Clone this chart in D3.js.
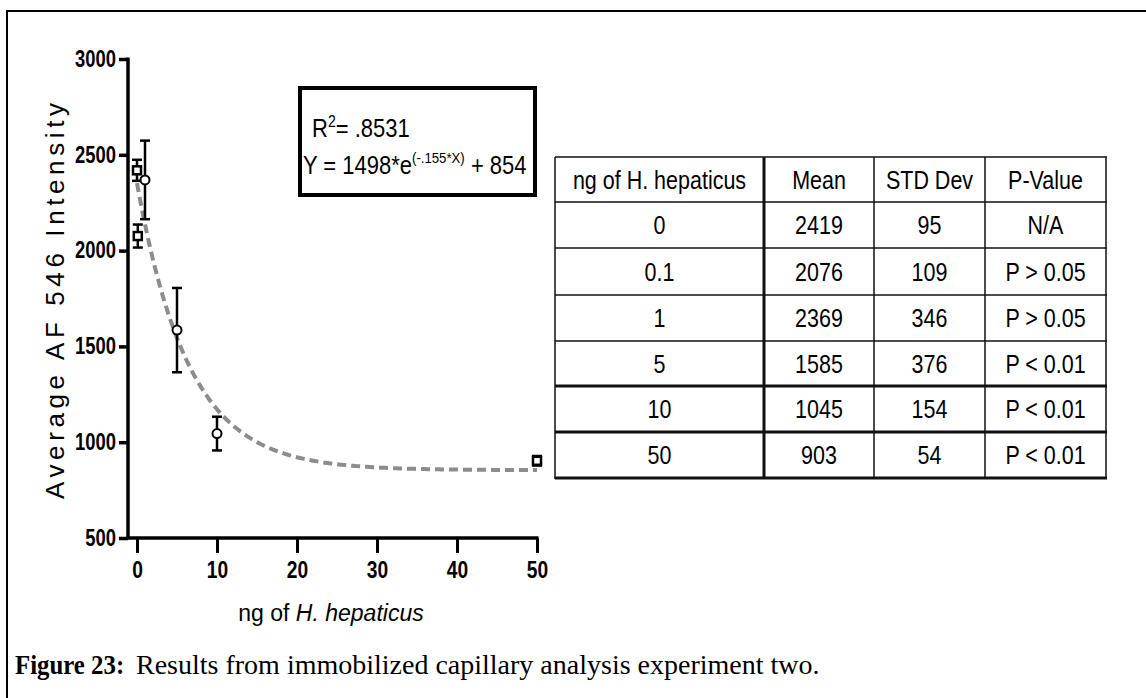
<!DOCTYPE html>
<html>
<head>
<meta charset="utf-8">
<script src="https://cdn.jsdelivr.net/npm/d3@7"></script>
<style>
  html, body { margin: 0; padding: 0; background: #fff; }
  svg { display: block; }
  text { font-family: "Liberation Sans", Arial, sans-serif; fill: #000; }
</style>
</head>
<body>
<svg id="chart" width="1146" height="698"></svg>
<script>
// ---------------- data ----------------
const doses = [0, 0.1, 1, 5, 10, 50];
const means = [2419, 2076, 2369, 1585, 1045, 903];
const stdDevs = [95, 109, 346, 376, 154, 54];
const pValues = ["N/A", "P > 0.05", "P > 0.05", "P < 0.01", "P < 0.01", "P < 0.01"];
// half-length of the error bars as drawn on the plot
const plottedErr = [55, 60, 205, 220, 88, 25];
const markerShapes = ["square", "square", "circle", "circle", "circle", "square"];
const xTicks = [0, 10, 20, 30, 40, 50];
const yTicks = [500, 1000, 1500, 2000, 2500, 3000];
const tableHeader = ["ng of H. hepaticus", "Mean", "STD Dev", "P-Value"];
const doseLabels = ["0", "0.1", "1", "5", "10", "50"];
// fitted model stated on the chart: Y = A*e^(-k*X) + C
const fitA = 1498, fitK = 0.155, fitC = 854;
const rSquaredLabel = ".8531";

// ---------------- layout ----------------
const svg = d3.select("#chart");
const x = d3.scaleLinear().domain([0, 50]).range([137, 537]);
const y = d3.scaleLinear().domain([500, 3000]).range([538, 59]);
const axisX0 = 128, axisY0 = 538;
const SX = 0.8; // horizontal squeeze to mimic the narrow face

// outer frame (extends beyond the right/bottom edges)
svg.append("rect").attr("x", 7).attr("y", 11).attr("width", 1300).attr("height", 900)
  .attr("fill", "none").attr("stroke", "#000").attr("stroke-width", 2);

// ---------------- axes ----------------
const gx = svg.append("g").attr("transform", `translate(0,${axisY0})`)
  .call(d3.axisBottom(x).tickValues(xTicks).tickFormat(d3.format("d"))
    .tickSize(15).tickSizeOuter(0).tickPadding(8));
gx.select(".domain").remove();
gx.selectAll(".tick line").attr("stroke", "#000").attr("stroke-width", 3);
gx.selectAll(".tick text").attr("font-size", 24).attr("font-weight", "bold")
  .style("font-family", "Liberation Sans, Arial, sans-serif")
  .attr("transform", `scale(${SX},1)`);
svg.append("line").attr("x1", axisX0 - 1.5).attr("x2", x(50) + 1.5)
  .attr("y1", axisY0).attr("y2", axisY0).attr("stroke", "#000").attr("stroke-width", 3.5);

const gy = svg.append("g").attr("transform", `translate(${axisX0},0)`)
  .call(d3.axisLeft(y).tickValues(yTicks).tickFormat(d3.format("d"))
    .tickSize(9).tickSizeOuter(0).tickPadding(3));
gy.select(".domain").remove();
gy.selectAll(".tick line").attr("stroke", "#000").attr("stroke-width", 3.5);
gy.selectAll(".tick text").attr("font-size", 23).attr("font-weight", "bold")
  .style("font-family", "Liberation Sans, Arial, sans-serif")
  .attr("x", -12 / SX).attr("transform", `scale(${SX},1)`);
svg.append("line").attr("x1", axisX0).attr("x2", axisX0)
  .attr("y1", y(3000) - 1.5).attr("y2", axisY0).attr("stroke", "#000").attr("stroke-width", 3.5);

// axis titles
svg.append("text")
  .attr("transform", `translate(64,301) rotate(-90)`)
  .attr("text-anchor", "middle").attr("font-size", 26)
  .attr("textLength", 396).attr("lengthAdjust", "spacing")
  .text("Average AF 546 Intensity");

const xt = svg.append("text").attr("x", 331).attr("y", 621)
  .attr("text-anchor", "middle").attr("font-size", 23);
xt.append("tspan").text("ng of ");
xt.append("tspan").attr("font-style", "italic").text("H. hepaticus");

// ---------------- fit curve ----------------
const curvePts = d3.range(0, 50.001, 0.25).map(v => [v, fitA * Math.exp(-fitK * v) + fitC]);
svg.append("path").datum(curvePts)
  .attr("d", d3.line().x(d => x(d[0])).y(d => y(d[1])))
  .attr("fill", "none").attr("stroke", "#8c8c8c").attr("stroke-width", 4)
  .attr("stroke-dasharray", "9,5");

// ---------------- error bars & markers ----------------
const pts = doses.map((d, i) => ({ x: d, y: means[i], e: plottedErr[i], s: markerShapes[i] }));
const eb = svg.append("g").attr("stroke", "#000").attr("stroke-width", 2.5);
pts.forEach(p => {
  const cx = x(p.x), top = y(p.y + p.e), bot = y(p.y - p.e);
  eb.append("line").attr("x1", cx).attr("x2", cx).attr("y1", top).attr("y2", bot);
  eb.append("line").attr("x1", cx - 5).attr("x2", cx + 5).attr("y1", top).attr("y2", top);
  eb.append("line").attr("x1", cx - 5).attr("x2", cx + 5).attr("y1", bot).attr("y2", bot);
});
const mk = svg.append("g");
pts.forEach(p => {
  const cx = x(p.x), cy = y(p.y);
  if (p.s === "circle") {
    mk.append("circle").attr("cx", cx).attr("cy", cy).attr("r", 4.5)
      .attr("fill", "#fff").attr("stroke", "#000").attr("stroke-width", 2);
  } else {
    mk.append("rect").attr("x", cx - 4).attr("y", cy - 4).attr("width", 8).attr("height", 8)
      .attr("fill", "#fff").attr("stroke", "#000").attr("stroke-width", 2.5);
  }
});

// ---------------- equation box ----------------
const EQS = 0.88;
svg.append("rect").attr("x", 300).attr("y", 88).attr("width", 235).attr("height", 107)
  .attr("fill", "#fff").attr("stroke", "#000").attr("stroke-width", 4);
const r2 = svg.append("text").attr("transform", `translate(312,137) scale(${EQS},1)`).attr("font-size", 25);
r2.append("tspan").text("R");
r2.append("tspan").attr("font-size", 16).attr("dy", -10).text("2");
r2.append("tspan").attr("dy", 10).text("= " + rSquaredLabel);
const eq = svg.append("text").attr("transform", `translate(303,174) scale(${EQS},1)`).attr("font-size", 25);
eq.append("tspan").text("Y =  " + fitA + "*e");
eq.append("tspan").attr("font-size", 15).attr("dy", -11).text("(-." + String(fitK).split(".")[1] + "*X)");
eq.append("tspan").attr("dy", 11).text(" + " + fitC);

// ---------------- table ----------------
const colX = [555, 764, 874, 985, 1106];
const rowY = [157, 202, 248, 295, 341, 386, 432, 478];
const thickRows = [5, 6, 7];
const rows = [tableHeader].concat(doses.map((d, i) => [doseLabels[i], String(means[i]), String(stdDevs[i]), pValues[i]]));
const tg = svg.append("g");
rowY.forEach((yy, i) => {
  tg.append("line").attr("x1", colX[0]).attr("x2", colX[4] + 1).attr("y1", yy).attr("y2", yy)
    .attr("stroke", "#111").attr("stroke-width", thickRows.includes(i) ? 3 : 1.5);
});
colX.forEach((xx, i) => {
  tg.append("line").attr("x1", xx).attr("x2", xx).attr("y1", rowY[0]).attr("y2", rowY[rowY.length - 1] + 1)
    .attr("stroke", "#111").attr("stroke-width", i === 1 ? 3 : 1.5);
});
const TS = 0.86;
rows.forEach((r, ri) => {
  const cy = (rowY[ri] + rowY[ri + 1]) / 2 + 9;
  r.forEach((txt, ci) => {
    const cx = (colX[ci] + colX[ci + 1]) / 2;
    tg.append("text").attr("transform", `translate(${cx},${cy}) scale(${TS},1)`)
      .attr("text-anchor", "middle").attr("font-size", 25).attr("fill", "#2a2a2a").text(txt);
  });
});

// ---------------- caption ----------------
const capFont = "Liberation Serif, 'Times New Roman', serif";
svg.append("text").attr("transform", "translate(15,674) scale(0.92,1)").attr("font-size", 27)
  .attr("font-weight", "bold").style("font-family", capFont).text("Figure 23:");
svg.append("text").attr("x", 136).attr("y", 674).attr("font-size", 28)
  .style("font-family", capFont)
  .text("Results from immobilized capillary analysis experiment two.");
</script>
</body>
</html>
